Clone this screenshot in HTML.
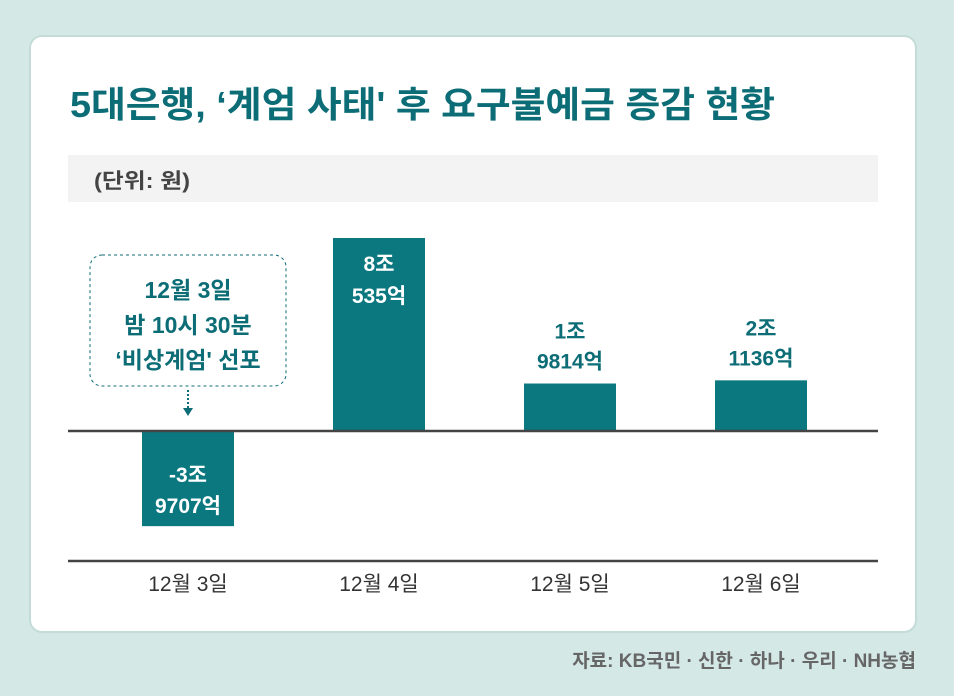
<!DOCTYPE html>
<html><head><meta charset="utf-8"><style>
body{margin:0;width:954px;height:696px;background:#d4e9e6;font-family:"Liberation Sans","Noto Sans CJK KR",sans-serif;overflow:hidden}
svg{display:block}
</style></head><body>
<svg width="954" height="696">
<rect x="30" y="36" width="886" height="596" rx="12" fill="#fff" stroke="#c4dcd8" stroke-width="2"/>
<text x="70" y="117" font-size="36" font-weight="bold" fill="#0d6d76" textLength="705" lengthAdjust="spacingAndGlyphs" font-family="Liberation Sans, Noto Sans CJK KR, sans-serif">5대은행, ‘계엄 사태' 후 요구불예금 증감 현황</text>
<rect x="68" y="155" width="810" height="47" fill="#f3f3f3"/>
<text x="94" y="188" font-size="21" font-weight="bold" fill="#444" textLength="96" lengthAdjust="spacingAndGlyphs" font-family="Liberation Sans, Noto Sans CJK KR, sans-serif">(단위: 원)</text>
<g id="bars"></g>
<line x1="68" x2="878" y1="431" y2="431" stroke="#444" stroke-width="2.5"/>
<line x1="68" x2="878" y1="561" y2="561" stroke="#444" stroke-width="2.5"/>
<g>
<rect x="90" y="255" width="196" height="131" rx="12" fill="none" stroke="#0d6d76" stroke-width="1" stroke-dasharray="3,3"/>
<g font-size="23" font-weight="bold" fill="#0d6d76" text-anchor="middle" font-family="Liberation Sans, Noto Sans CJK KR, sans-serif">
<text x="188" y="298">12월 3일</text>
<text x="188" y="333">밤 10시 30분</text>
<text x="188" y="368">‘비상계엄' 선포</text>
</g>
<line x1="188" x2="188" y1="390" y2="408" stroke="#0d6d76" stroke-width="2" stroke-dasharray="2,2"/>
<polygon points="183,408 193,408 188,416" fill="#0d6d76"/>
</g>
<g id="xlabels"></g>
<text x="916" y="667" font-size="19" font-weight="bold" fill="#666" text-anchor="end" font-family="Liberation Sans, Noto Sans CJK KR, sans-serif">자료: KB국민 · 신한 · 하나 · 우리 · NH농협</text>
</svg>
<script>
const categories=["12월 3일","12월 4일","12월 5일","12월 6일"];
const values=[-39707,80535,19814,21136];
const labelTop=["-3조","8조","1조","2조"];
const labelBottom=["9707억","535억","9814억","1136억"];
const NS="http://www.w3.org/2000/svg";
const zeroY=431, scale=193/80535, x0=188, step=191, bw=92;
const xPos=i=>x0+i*step;
const yPos=v=>zeroY-v*scale;
const bars=document.getElementById('bars'), xl=document.getElementById('xlabels');
function t(txt,x,y,fill,name,size,weight){
 const e=document.createElementNS(NS,'text');
 e.setAttribute('x',x);e.setAttribute('y',y);e.setAttribute('fill',fill);
 e.setAttribute('font-size',size);e.setAttribute('font-weight',weight);e.setAttribute('text-anchor','middle');
 e.setAttribute('font-family','Liberation Sans, Noto Sans CJK KR, sans-serif');
 e.textContent=txt;
 
 
 return e;
}
values.forEach((v,i)=>{
 const r=document.createElementNS(NS,'rect');
 const y=Math.min(yPos(v),zeroY), h=Math.abs(yPos(v)-zeroY);
 r.setAttribute('x',xPos(i)-bw/2);r.setAttribute('y',y);r.setAttribute('width',bw);r.setAttribute('height',h);
 r.setAttribute('fill','#0b7880');
 
 
 bars.appendChild(r);
 let y1,y2,c;
 if(v<0){y1=zeroY+51;y2=zeroY+82;c='#fff';}
 else if(h>120){y1=yPos(v)+33;y2=yPos(v)+65;c='#fff';}
 else{y1=yPos(v)-45;y2=yPos(v)-15;c='#0d6d76';}
 bars.appendChild(t(labelTop[i],xPos(i),y1,c,'value-label-'+(i+1),21,'bold'));
 bars.appendChild(t(labelBottom[i],xPos(i),y2,c,'value-sublabel-'+(i+1),21,'bold'));
 xl.appendChild(t(categories[i],xPos(i),591,'#333','x-label-'+(i+1),21,'normal'));
});
</script>
</body></html>
